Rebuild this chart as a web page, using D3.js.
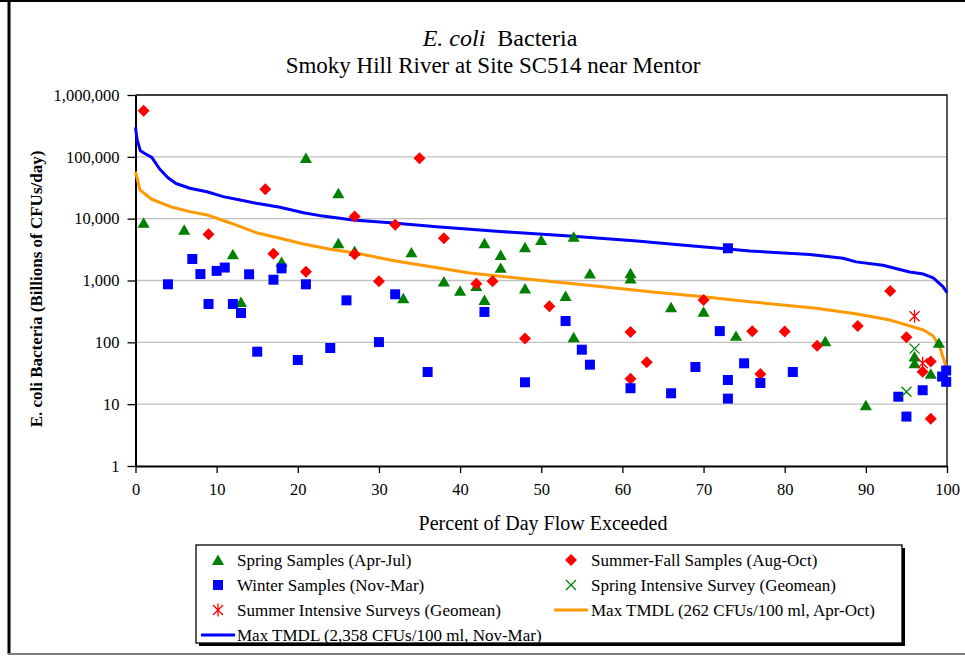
<!DOCTYPE html>
<html>
<head>
<meta charset="utf-8">
<script src="https://cdn.jsdelivr.net/npm/d3@7"></script>
<style>
  body { margin: 0; background: #fff; }
  text { font-family: "Liberation Serif", "Times New Roman", serif; }
</style>
</head>
<body>
<div id="plot"></div>
<script>
// chart size and plot box
const svgWidth = 965;
const svgHeight = 657;
const plot = {left: 135.5, right: 947, top: 95, bottom: 466};

// tick values
const xTicks = [0, 10, 20, 30, 40, 50, 60, 70, 80, 90, 100];
const yTicks = [1, 10, 100, 1000, 10000, 100000, 1000000];

// samples: percent of day flow exceeded, load (billions CFUs/day)
const springX = [1, 6, 12, 13, 18, 21, 25, 25, 27, 33, 34, 38, 40, 42, 43, 43, 45, 45, 48, 48, 50, 53, 54, 54, 56, 61, 61, 66, 70, 74, 85, 90, 96, 96, 98, 99];
const springY = [8600, 6600, 2650, 450, 2000, 96000, 25700, 4000, 3000, 515, 2850, 960, 680, 815, 4000, 485, 2580, 1600, 3450, 740, 4500, 560, 5100, 121, 1300, 1310, 1080, 370, 313, 127, 104, 9.6, 59, 46, 31, 98];

const summerX = [1, 9, 16, 17, 21, 27, 27, 30, 32, 35, 38, 42, 44, 48, 51, 61, 61, 63, 70, 76, 77, 80, 84, 89, 93, 95, 97, 98, 98];
const summerY = [557000, 5600, 29900, 2700, 1380, 10800, 2650, 975, 8000, 94800, 4820, 890, 970, 115, 383, 147, 25.8, 47.5, 484, 151, 30.7, 149, 88, 184, 677, 121, 33.5, 49, 5.8];

const winterX = [4, 7, 8, 9, 10, 11, 12, 13, 14, 15, 17, 18, 20, 21, 24, 26, 30, 32, 36, 43, 48, 53, 55, 56, 61, 66, 69, 72, 73, 73, 73, 75, 77, 81, 94, 95, 97, 99.4, 99.9, 99.9];
const winterY = [868, 2230, 1270, 417, 1430, 1620, 417, 298, 1260, 70.6, 1030, 1570, 51.8, 868, 81, 478, 101, 598, 33.1, 310, 22.6, 221, 76, 43.5, 18.1, 15, 39.9, 152, 3320, 24.6, 12.3, 45.8, 22, 33.1, 13.2, 6.3, 16.8, 28, 35, 23];

const springSurveyX = [95, 96];
const springSurveyY = [15.9, 79];

const summerSurveyX = [96, 97];
const summerSurveyY = [264, 46];

// max TMDL curves
const tmdlWinterX = [0, 0.2, 0.6, 1.2, 2, 3, 4, 5, 6.7, 8.8, 10.8, 12.9, 14.9, 17.8, 20.7, 23.1, 26.8, 31.4, 37.1, 45.3, 53.5, 61.8, 65.9, 68.7, 73, 75.7, 83.1, 87.2, 88.8, 92.1, 95.4, 97.1, 98.3, 99.5, 100];
const tmdlWinterY = [300000, 190000, 125000, 112000, 98000, 63000, 46000, 37000, 31000, 27300, 22700, 20000, 17700, 15300, 12500, 11000, 9500, 8600, 7420, 6160, 5250, 4370, 3900, 3610, 3230, 3000, 2640, 2290, 2000, 1760, 1370, 1270, 1100, 795, 637];

const tmdlSummerX = [0, 0.55, 2, 4.3, 6.7, 8.8, 11.6, 14.9, 17.8, 20.7, 24, 27.3, 31.4, 33, 41.2, 49.4, 57.6, 63.4, 70, 75.7, 83.9, 88.9, 93, 97.1, 98.3, 99.1, 99.75, 100];
const tmdlSummerY = [57500, 29100, 20600, 15600, 13000, 11500, 8600, 5930, 4820, 3900, 3200, 2750, 2150, 1980, 1320, 1020, 794, 659, 547, 454, 355, 287, 229, 158, 127, 85, 46, 32];

const legendLabels = [
  "Spring Samples (Apr-Jul)", "Summer-Fall Samples (Aug-Oct)",
  "Winter Samples (Nov-Mar)", "Spring Intensive Survey (Geomean)",
  "Summer Intensive Surveys (Geomean)", "Max TMDL (262 CFUs/100 ml, Apr-Oct)",
  "Max TMDL (2,358 CFUs/100 ml, Nov-Mar)"
];

const green = "#008000", red = "#ff0000", blue = "#0000ff", orange = "#ff9900";

// marker shapes (size = half width)
const triangle = {draw(ctx, s) { ctx.moveTo(0, -s); ctx.lineTo(s * 1.1, s * 0.9); ctx.lineTo(-s * 1.1, s * 0.9); ctx.closePath(); }};
const square = {draw(ctx, s) { ctx.rect(-s, -s, 2 * s, 2 * s); }};
const diamond = {draw(ctx, s) { ctx.moveTo(0, -s); ctx.lineTo(s, 0); ctx.lineTo(0, s); ctx.lineTo(-s, 0); ctx.closePath(); }};
const cross = {draw(ctx, s) { ctx.moveTo(-s, -s); ctx.lineTo(s, s); ctx.moveTo(s, -s); ctx.lineTo(-s, s); }};
const star = {draw(ctx, s) { ctx.moveTo(-s, -s); ctx.lineTo(s, s); ctx.moveTo(s, -s); ctx.lineTo(-s, s); ctx.moveTo(0, -s * 1.3); ctx.lineTo(0, s * 1.3); }};

let svg = d3.select("#plot")
  .append("svg")
  .attr("width", svgWidth)
  .attr("height", svgHeight);

// outer frame
svg.append("line").attr("x1", 0).attr("x2", svgWidth).attr("y1", 1).attr("y2", 1).attr("stroke", "#000").attr("stroke-width", 2);
svg.append("line").attr("x1", 9).attr("x2", 9).attr("y1", 0).attr("y2", 654).attr("stroke", "#000").attr("stroke-width", 3);
svg.append("line").attr("x1", 8).attr("x2", svgWidth).attr("y1", 654).attr("y2", 654).attr("stroke", "#808080").attr("stroke-width", 2);

// titles
let title1 = svg.append("text").attr("x", 500).attr("y", 46).attr("text-anchor", "middle").style("font-size", "24px")
  .attr("xml:space", "preserve").style("white-space", "pre");
title1.append("tspan").style("font-style", "italic").text("E. coli");
title1.append("tspan").text("  Bacteria");
svg.append("text").attr("x", 493).attr("y", 73).attr("text-anchor", "middle").style("font-size", "23px")
  .text("Smoky Hill River at Site SC514 near Mentor");

// scales
var x = d3.scaleLinear().domain([0, 100]).range([plot.left, plot.right]);
var y = d3.scaleLog().domain([1, 1000000]).range([plot.bottom, plot.top]);

// grid lines
svg.append("g")
  .selectAll("line")
  .data(yTicks.slice(1, -1))
  .enter()
  .append("line")
  .attr("x1", plot.left).attr("x2", plot.right)
  .attr("y1", d => y(d)).attr("y2", d => y(d))
  .attr("stroke", "#c0c0c0").attr("stroke-width", 1.3);

// plot border top and right
svg.append("path")
  .attr("d", `M${plot.left},${plot.top}H${plot.right}V${plot.bottom}`)
  .attr("fill", "none").attr("stroke", "#000").attr("stroke-width", 1.3);

// axes
let xAxis = svg.append("g")
  .attr("transform", "translate(0," + plot.bottom + ")")
  .call(d3.axisBottom(x).tickValues(xTicks).tickSize(7).tickSizeOuter(0).tickPadding(10));
let yAxis = svg.append("g")
  .attr("transform", "translate(" + plot.left + ",0)")
  .call(d3.axisLeft(y).tickValues(yTicks).tickFormat(d3.format(",")).tickSize(8).tickSizeOuter(0).tickPadding(8));
[xAxis, yAxis].forEach(a => {
  a.select(".domain").attr("stroke", "#000").attr("stroke-width", 2);
  a.selectAll(".tick line").attr("stroke", "#000").attr("stroke-width", 1.3);
  a.selectAll("text").style("font-size", "16.5px").style("font-family", "'Liberation Serif', serif").attr("fill", "#000");
});

// axis titles
svg.append("text").attr("x", 543).attr("y", 530).attr("text-anchor", "middle").style("font-size", "20px")
  .text("Percent of Day Flow Exceeded");
svg.append("text").attr("transform", "translate(42,289) rotate(-90)").attr("text-anchor", "middle")
  .style("font-size", "17px").style("font-weight", "bold")
  .text("E. coli Bacteria (Billions of CFUs/day)");

// TMDL lines
const line = d3.line().x(d => x(d[0])).y(d => y(d[1]));
svg.append("path").datum(d3.zip(tmdlSummerX, tmdlSummerY))
  .attr("d", line).attr("fill", "none").attr("stroke", orange).attr("stroke-width", 3).attr("stroke-linejoin", "round");
svg.append("path").datum(d3.zip(tmdlWinterX, tmdlWinterY))
  .attr("d", line).attr("fill", "none").attr("stroke", blue).attr("stroke-width", 3).attr("stroke-linejoin", "round");

// sample markers
function drawMarkers(xs, ys, shape, size, color, filled) {
  svg.append("g")
    .selectAll("path")
    .data(d3.zip(xs, ys))
    .enter()
    .append("path")
    .attr("transform", d => "translate(" + x(d[0]) + "," + y(d[1]) + ")")
    .attr("d", d3.symbol().type(shape).size(size))
    .attr("fill", filled ? color : "none")
    .attr("stroke", filled ? "none" : color)
    .attr("stroke-width", 1.3);
}
drawMarkers(springX, springY, triangle, 5.5, green, true);
drawMarkers(summerX, summerY, diamond, 6, red, true);
drawMarkers(winterX, winterY, square, 5, blue, true);
drawMarkers(springSurveyX, springSurveyY, cross, 5, green, false);
drawMarkers(summerSurveyX, summerSurveyY, star, 5, red, false);

// legend
let legend = svg.append("g");
legend.append("rect").attr("x", 199).attr("y", 548).attr("width", 706).attr("height", 98).attr("fill", "#000");
legend.append("rect").attr("x", 196).attr("y", 545).attr("width", 706).attr("height", 98)
  .attr("fill", "#fff").attr("stroke", "#000").attr("stroke-width", 1.3);

const legendItems = [
  {shape: triangle, size: 5.5, color: green, filled: true},
  {shape: diamond, size: 6, color: red, filled: true},
  {shape: square, size: 5, color: blue, filled: true},
  {shape: cross, size: 5, color: green, filled: false},
  {shape: star, size: 5, color: red, filled: false},
  {line: true, color: orange},
  {line: true, color: blue}
];
legendItems.forEach((it, i) => {
  const col = i % 2, row = Math.floor(i / 2);
  const mx = col ? 571 : 218, ty = 560 + row * 25;
  const tx = col ? 591 : 237;
  if (it.line) {
    legend.append("line").attr("x1", mx - 17).attr("x2", mx + 17).attr("y1", ty).attr("y2", ty)
      .attr("stroke", it.color).attr("stroke-width", 3);
  } else {
    legend.append("path").attr("transform", "translate(" + mx + "," + ty + ")")
      .attr("d", d3.symbol().type(it.shape).size(it.size))
      .attr("fill", it.filled ? it.color : "none")
      .attr("stroke", it.filled ? "none" : it.color).attr("stroke-width", 1.3);
  }
  legend.append("text").attr("x", tx).attr("y", ty + 5.5).style("font-size", "17px").text(legendLabels[i]);
});
</script>
</body>
</html>
